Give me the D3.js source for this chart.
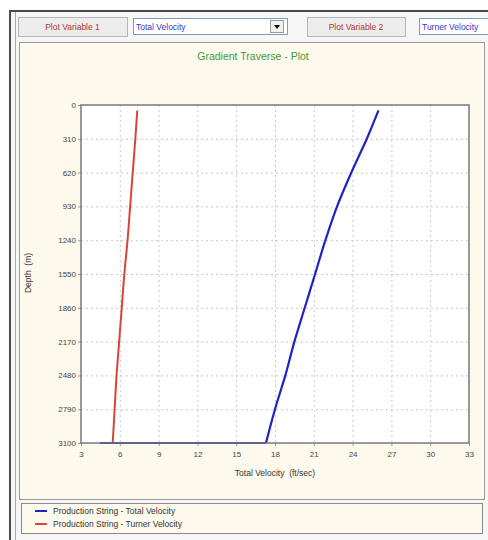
<!DOCTYPE html>
<html>
<head>
<meta charset="utf-8">
<script src="https://cdn.jsdelivr.net/npm/d3@7"></script>
<style>
  body { margin: 0; background: #ffffff; }
  svg { display: block; font-family: "Liberation Sans", "DejaVu Sans", sans-serif; }
</style>
</head>
<body>
<div id="chart"></div>
<script>
// Chart data
const xTicks = [3, 6, 9, 12, 15, 18, 21, 24, 27, 30, 33];
const yTicks = [0, 310, 620, 930, 1240, 1550, 1860, 2170, 2480, 2790, 3100];

const totalDepth = [50, 310, 620, 930, 1240, 1550, 1860, 2170, 2480, 2790, 3100];
const totalVelocity = [26.0, 25.1, 23.9, 22.8, 21.9, 21.1, 20.3, 19.5, 18.8, 18.0, 17.3];
// flat run along the bottom of the well
const bottomVelocity = [17.3, 4.45];

const turnerDepth = [50, 310, 620, 930, 1240, 1550, 1860, 2170, 2480, 2790, 3100];
const turnerVelocity = [7.35, 7.2, 7.0, 6.8, 6.6, 6.35, 6.15, 5.95, 5.75, 5.6, 5.45];

const seriesNames = ["Production String - Total Velocity", "Production String - Turner Velocity"];
const seriesColors = ["#1f22c4", "#d8443a"];

const width = 488;
const height = 540;
const margin = { top: 105, right: 19, bottom: 97, left: 81 };

const svg = d3.select("#chart")
    .append("svg")
    .attr("width", width)
    .attr("height", height);

// Outer window frame
svg.append("rect")
    .attr("x", 10).attr("y", 11)
    .attr("width", 480).attr("height", 531)
    .attr("fill", "#f6f6f6")
    .attr("stroke", "#4a4a4a")
    .attr("stroke-width", 2);
svg.append("line")
    .attr("x1", 15.5).attr("x2", 15.5).attr("y1", 12).attr("y2", 540)
    .attr("stroke", "#a8a8a8");

// Top control row
function button(x, w, label) {
    svg.append("rect")
        .attr("x", x + 0.5).attr("y", 17.5)
        .attr("width", w).attr("height", 19)
        .attr("fill", "#ececec")
        .attr("stroke", "#b5b5b5");
    svg.append("text")
        .attr("x", x + w / 2).attr("y", 30)
        .attr("text-anchor", "middle")
        .attr("font-size", "8.5px")
        .attr("fill", "#b5342e")
        .text(label);
}
function combo(x, w, label, arrow) {
    svg.append("rect")
        .attr("x", x + 0.5).attr("y", 18.5)
        .attr("width", w).attr("height", 16)
        .attr("fill", "#ffffff")
        .attr("stroke", "#7f9db9");
    svg.append("text")
        .attr("x", x + 3).attr("y", 30)
        .attr("font-size", "8.5px")
        .attr("fill", "#3535c8")
        .text(label);
    if (arrow) {
        svg.append("rect")
            .attr("x", x + w - 16.5).attr("y", 20.5)
            .attr("width", 13).attr("height", 12)
            .attr("fill", "#f0f0f0")
            .attr("stroke", "#9a9a9a");
        svg.append("path")
            .attr("d", `M${x + w - 13},25 L${x + w - 7},25 L${x + w - 10},29 Z`)
            .attr("fill", "#000");
    }
}
button(18, 109, "Plot Variable 1");
combo(133, 154, "Total Velocity", true);
button(307, 98, "Plot Variable 2");
combo(419, 80, "Turner Velocity", false);

// Chart panel
svg.append("rect")
    .attr("x", 19.5).attr("y", 42.5)
    .attr("width", 465).attr("height", 457)
    .attr("fill", "#fdf9ec")
    .attr("stroke", "#9a9a9a");

svg.append("text")
    .attr("x", 253).attr("y", 60)
    .attr("text-anchor", "middle")
    .attr("font-size", "10.5px")
    .attr("fill", "#3e9a3e")
    .text("Gradient Traverse - Plot");

// Scales
const x = d3.scaleLinear()
    .domain([3, 33])
    .range([margin.left, width - margin.right]);

const y = d3.scaleLinear()
    .domain([0, 3100])
    .range([margin.top, height - margin.bottom]);

// Plot background
svg.append("rect")
    .attr("x", x(3)).attr("y", y(0))
    .attr("width", x(33) - x(3)).attr("height", y(3100) - y(0))
    .attr("fill", "#ffffff");

// Dashed grid
svg.append("g")
    .selectAll("line")
    .data(xTicks.slice(1, -1))
    .enter()
    .append("line")
    .attr("x1", d => x(d) + 0.5).attr("x2", d => x(d) + 0.5)
    .attr("y1", y(0)).attr("y2", y(3100))
    .attr("stroke", "#c9c9c9")
    .attr("stroke-dasharray", "2,3");

svg.append("g")
    .selectAll("line")
    .data(yTicks.slice(1, -1))
    .enter()
    .append("line")
    .attr("x1", x(3)).attr("x2", x(33))
    .attr("y1", d => y(d) + 0.5).attr("y2", d => y(d) + 0.5)
    .attr("stroke", "#c9c9c9")
    .attr("stroke-dasharray", "2,3");

// Axes
const xAxis = svg.append("g")
    .attr("transform", `translate(0, ${y(3100)})`)
    .call(d3.axisBottom(x).tickValues(xTicks).tickSize(3).tickPadding(5).tickFormat(d3.format("d")));

const yAxis = svg.append("g")
    .attr("transform", `translate(${x(3)}, 0)`)
    .call(d3.axisLeft(y).tickValues(yTicks).tickSize(3).tickPadding(2).tickFormat(d3.format("d")));

[xAxis, yAxis].forEach(g => {
    g.select(".domain").remove();
    g.selectAll(".tick line").attr("stroke", "#9a9a9a");
    g.selectAll(".tick text")
        .attr("fill", "#444")
        .attr("font-size", "8px")
        .attr("font-family", "Liberation Sans, sans-serif");
});

// Lines
const curve = d3.line()
    .x(d => x(d[0]))
    .y(d => y(d[1]))
    .curve(d3.curveCatmullRom);

svg.append("path")
    .datum(turnerVelocity.map((v, i) => [v, turnerDepth[i]]))
    .attr("d", curve)
    .attr("fill", "none")
    .attr("stroke", seriesColors[1])
    .attr("stroke-width", 2);

svg.append("path")
    .datum(bottomVelocity.map(v => [v, 3100]))
    .attr("d", curve)
    .attr("fill", "none")
    .attr("stroke", seriesColors[0])
    .attr("stroke-width", 2.2);

svg.append("path")
    .datum(totalVelocity.map((v, i) => [v, totalDepth[i]]))
    .attr("d", curve)
    .attr("fill", "none")
    .attr("stroke", seriesColors[0])
    .attr("stroke-width", 2.2);

// Plot border
svg.append("rect")
    .attr("x", x(3)).attr("y", y(0))
    .attr("width", x(33) - x(3)).attr("height", y(3100) - y(0))
    .attr("fill", "none")
    .attr("stroke", "#7a7a7a")
    .attr("stroke-width", 1.5);

// Axis titles
svg.append("text")
    .attr("x", 275).attr("y", 476)
    .attr("text-anchor", "middle")
    .attr("font-size", "8.5px")
    .attr("fill", "#333")
    .attr("xml:space", "preserve")
    .text("Total Velocity  (ft/sec)");

svg.append("text")
    .attr("transform", "translate(31, 273) rotate(-90)")
    .attr("text-anchor", "middle")
    .attr("font-size", "8.5px")
    .attr("fill", "#333")
    .attr("xml:space", "preserve")
    .text("Depth  (m)");

// Legend
svg.append("rect")
    .attr("x", 21.5).attr("y", 503.5)
    .attr("width", 461).attr("height", 30)
    .attr("fill", "#fdf9ec")
    .attr("stroke", "#8a8a8a");

const legend = svg.append("g")
    .selectAll("g")
    .data(seriesNames)
    .enter()
    .append("g")
    .attr("transform", (d, i) => `translate(35, ${511 + i * 13})`);

legend.append("line")
    .attr("x1", 0).attr("x2", 12)
    .attr("stroke", (d, i) => seriesColors[i])
    .attr("stroke-width", 2);

legend.append("text")
    .attr("x", 18).attr("y", 3)
    .attr("font-size", "8.5px")
    .attr("fill", "#333")
    .text(d => d);
</script>
</body>
</html>
